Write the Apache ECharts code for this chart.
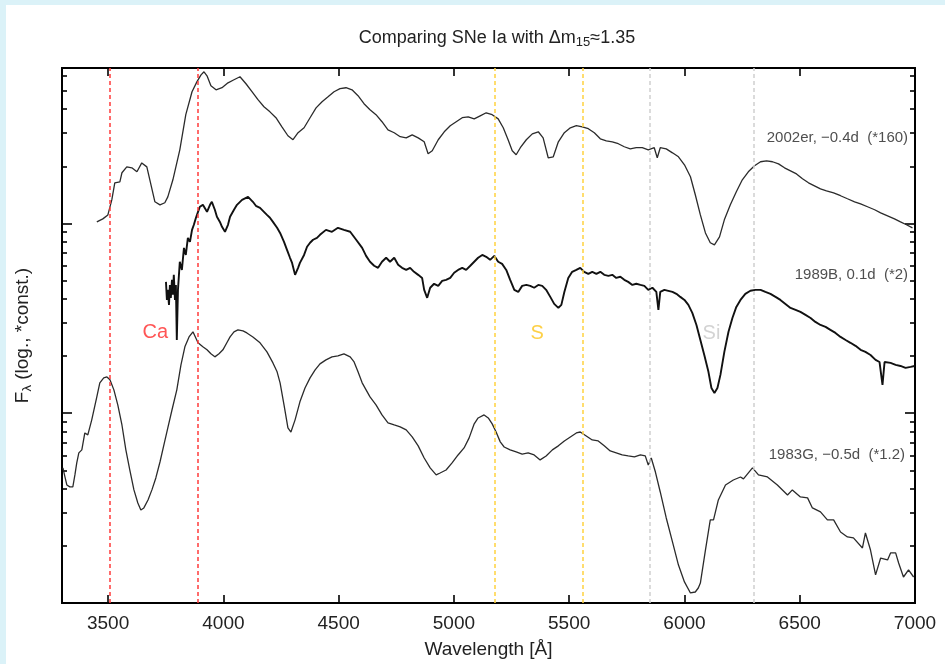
<!DOCTYPE html>
<html>
<head>
<meta charset="utf-8">
<script src="https://cdn.jsdelivr.net/npm/echarts@6/dist/echarts.min.js"></script>
<style>
html,body{margin:0;padding:0;background:#fff;}
#chart{width:945px;height:664px;}
</style>
</head>
<body>
<div id="chart"></div>
<script>
// ---- Data (wavelength in Å, log10 of scaled flux) ----
var sn2002er = [[3451,2.008],[3477,2.024],[3499,2.045],[3516,2.124],[3529,2.214],[3551,2.219],[3560,2.267],[3581,2.298],[3603,2.293],[3625,2.272],[3646,2.319],[3668,2.298],[3681,2.230],[3703,2.114],[3725,2.098],[3746,2.109],[3759,2.140],[3781,2.230],[3811,2.388],[3837,2.573],[3864,2.694],[3885,2.746],[3903,2.783],[3916,2.799],[3929,2.778],[3946,2.725],[3968,2.704],[3994,2.715],[4020,2.741],[4046,2.757],[4072,2.773],[4098,2.736],[4124,2.694],[4150,2.652],[4176,2.615],[4202,2.588],[4228,2.557],[4254,2.509],[4280,2.462],[4302,2.441],[4324,2.478],[4350,2.504],[4376,2.557],[4402,2.609],[4428,2.641],[4454,2.667],[4480,2.694],[4506,2.710],[4532,2.715],[4558,2.704],[4584,2.673],[4610,2.631],[4636,2.599],[4662,2.573],[4688,2.536],[4714,2.493],[4741,2.478],[4767,2.457],[4793,2.451],[4819,2.467],[4845,2.451],[4871,2.430],[4888,2.367],[4906,2.383],[4932,2.441],[4958,2.483],[4984,2.515],[5010,2.536],[5036,2.557],[5062,2.562],[5088,2.551],[5114,2.567],[5140,2.583],[5166,2.573],[5192,2.551],[5214,2.504],[5235,2.441],[5253,2.383],[5270,2.362],[5288,2.399],[5314,2.441],[5340,2.472],[5366,2.483],[5387,2.451],[5409,2.346],[5431,2.351],[5453,2.430],[5479,2.478],[5505,2.504],[5531,2.515],[5557,2.509],[5583,2.499],[5609,2.478],[5635,2.446],[5661,2.435],[5687,2.430],[5713,2.420],[5739,2.404],[5765,2.393],[5791,2.399],[5817,2.399],[5843,2.388],[5869,2.399],[5882,2.346],[5895,2.399],[5921,2.393],[5948,2.372],[5974,2.351],[6000,2.309],[6026,2.246],[6047,2.151],[6069,2.045],[6091,1.950],[6112,1.898],[6130,1.887],[6152,1.929],[6173,2.019],[6199,2.098],[6225,2.167],[6251,2.230],[6277,2.272],[6304,2.304],[6330,2.325],[6356,2.330],[6382,2.325],[6408,2.314],[6434,2.293],[6460,2.277],[6486,2.261],[6512,2.235],[6538,2.214],[6564,2.198],[6590,2.182],[6616,2.172],[6647,2.161],[6677,2.146],[6707,2.130],[6738,2.114],[6764,2.103],[6794,2.088],[6825,2.072],[6851,2.056],[6881,2.040],[6911,2.024],[6937,2.008],[6963,1.993],[6989,1.977]];

var sn1989B = [[3751,1.692],[3755,1.597],[3759,1.650],[3764,1.571],[3768,1.676],[3772,1.608],[3777,1.703],[3781,1.624],[3785,1.729],[3790,1.597],[3794,1.676],[3798,1.386],[3803,1.650],[3811,1.798],[3820,1.755],[3829,1.871],[3837,1.834],[3846,1.924],[3855,1.903],[3864,1.966],[3872,1.993],[3881,2.030],[3890,2.061],[3898,2.088],[3911,2.098],[3929,2.061],[3942,2.098],[3950,2.114],[3963,2.072],[3972,2.035],[3985,2.008],[3994,1.982],[4007,1.956],[4020,1.993],[4029,2.035],[4046,2.072],[4059,2.098],[4081,2.124],[4107,2.140],[4128,2.114],[4141,2.093],[4159,2.082],[4176,2.061],[4189,2.045],[4202,2.030],[4215,2.008],[4233,1.977],[4246,1.950],[4263,1.903],[4276,1.861],[4289,1.819],[4298,1.792],[4311,1.729],[4324,1.766],[4332,1.792],[4350,1.834],[4363,1.877],[4376,1.898],[4389,1.914],[4406,1.924],[4419,1.940],[4445,1.966],[4471,1.956],[4497,1.977],[4523,1.966],[4550,1.956],[4576,1.914],[4602,1.871],[4619,1.829],[4636,1.798],[4654,1.777],[4671,1.766],[4688,1.798],[4706,1.819],[4723,1.798],[4741,1.819],[4758,1.782],[4775,1.766],[4793,1.755],[4810,1.766],[4827,1.745],[4845,1.729],[4862,1.713],[4871,1.650],[4884,1.608],[4897,1.661],[4914,1.682],[4932,1.671],[4949,1.697],[4966,1.703],[4984,1.713],[5001,1.740],[5018,1.755],[5036,1.766],[5053,1.755],[5071,1.777],[5088,1.798],[5105,1.819],[5123,1.834],[5140,1.824],[5157,1.808],[5175,1.829],[5192,1.798],[5209,1.787],[5227,1.755],[5244,1.703],[5262,1.650],[5279,1.639],[5296,1.671],[5314,1.676],[5331,1.671],[5348,1.661],[5366,1.676],[5383,1.671],[5400,1.650],[5418,1.613],[5435,1.576],[5453,1.555],[5466,1.571],[5479,1.639],[5496,1.713],[5513,1.745],[5531,1.755],[5548,1.766],[5565,1.745],[5583,1.734],[5600,1.745],[5618,1.734],[5635,1.745],[5652,1.729],[5670,1.724],[5687,1.729],[5704,1.713],[5722,1.719],[5739,1.703],[5756,1.692],[5774,1.676],[5791,1.682],[5809,1.676],[5826,1.671],[5843,1.650],[5861,1.661],[5878,1.639],[5887,1.545],[5895,1.639],[5913,1.650],[5930,1.645],[5948,1.639],[5965,1.629],[5982,1.613],[6000,1.597],[6017,1.571],[6034,1.529],[6052,1.465],[6069,1.386],[6086,1.307],[6104,1.218],[6117,1.133],[6130,1.107],[6143,1.133],[6156,1.202],[6173,1.323],[6191,1.429],[6208,1.502],[6225,1.560],[6243,1.597],[6264,1.629],[6286,1.645],[6308,1.650],[6330,1.650],[6351,1.639],[6373,1.629],[6395,1.613],[6416,1.597],[6438,1.576],[6460,1.555],[6482,1.545],[6503,1.534],[6525,1.518],[6547,1.502],[6568,1.481],[6590,1.465],[6612,1.455],[6633,1.439],[6655,1.423],[6677,1.402],[6699,1.386],[6720,1.371],[6742,1.355],[6764,1.334],[6785,1.323],[6807,1.307],[6829,1.281],[6846,1.270],[6859,1.149],[6868,1.270],[6894,1.265],[6916,1.255],[6937,1.249],[6959,1.239],[6981,1.244],[6998,1.249]];

var sn1983G = [[3304,0.712],[3312,0.669],[3321,0.622],[3334,0.612],[3347,0.612],[3356,0.675],[3364,0.738],[3373,0.791],[3386,0.807],[3399,0.896],[3412,0.886],[3429,0.965],[3451,1.086],[3464,1.160],[3481,1.186],[3495,1.191],[3508,1.176],[3525,1.123],[3542,1.044],[3560,0.938],[3577,0.807],[3594,0.701],[3612,0.596],[3629,0.527],[3642,0.490],[3655,0.501],[3673,0.543],[3690,0.596],[3707,0.659],[3725,0.743],[3742,0.833],[3759,0.923],[3777,1.017],[3798,1.123],[3816,1.255],[3833,1.350],[3851,1.402],[3868,1.429],[3890,1.371],[3911,1.350],[3929,1.334],[3946,1.313],[3963,1.297],[3981,1.313],[3998,1.334],[4015,1.371],[4029,1.402],[4046,1.429],[4063,1.439],[4085,1.434],[4102,1.423],[4128,1.402],[4159,1.371],[4189,1.323],[4215,1.265],[4233,1.218],[4246,1.160],[4263,1.044],[4280,0.923],[4293,0.901],[4311,0.965],[4332,1.060],[4354,1.133],[4376,1.186],[4398,1.228],[4419,1.260],[4445,1.281],[4471,1.297],[4497,1.302],[4523,1.313],[4550,1.297],[4567,1.270],[4584,1.218],[4602,1.160],[4619,1.123],[4636,1.086],[4662,1.044],[4688,0.991],[4714,0.949],[4741,0.938],[4767,0.928],[4793,0.912],[4819,0.875],[4845,0.828],[4871,0.764],[4897,0.712],[4923,0.675],[4940,0.685],[4966,0.701],[4992,0.738],[5018,0.780],[5044,0.817],[5066,0.870],[5088,0.944],[5105,0.975],[5131,0.991],[5149,0.975],[5166,0.944],[5183,0.901],[5201,0.849],[5218,0.822],[5244,0.807],[5270,0.796],[5296,0.785],[5322,0.791],[5348,0.780],[5374,0.754],[5400,0.775],[5427,0.807],[5453,0.828],[5479,0.854],[5505,0.875],[5531,0.896],[5548,0.901],[5574,0.880],[5600,0.859],[5626,0.854],[5652,0.828],[5678,0.801],[5704,0.791],[5730,0.780],[5756,0.775],[5783,0.770],[5809,0.780],[5830,0.775],[5843,0.727],[5856,0.764],[5874,0.690],[5895,0.585],[5921,0.448],[5948,0.322],[5974,0.200],[6000,0.111],[6026,0.053],[6047,0.058],[6060,0.079],[6069,0.105],[6091,0.279],[6112,0.438],[6126,0.438],[6147,0.543],[6178,0.622],[6212,0.648],[6243,0.664],[6256,0.654],[6295,0.712],[6321,0.675],[6360,0.664],[6403,0.622],[6447,0.569],[6468,0.596],[6503,0.559],[6534,0.554],[6555,0.501],[6590,0.480],[6620,0.438],[6647,0.438],[6677,0.374],[6707,0.348],[6733,0.343],[6772,0.290],[6785,0.369],[6807,0.279],[6829,0.148],[6851,0.237],[6881,0.227],[6894,0.264],[6916,0.264],[6929,0.211],[6950,0.137],[6972,0.174],[6994,0.137]];

// Spectrum labels
var specLabels = ['2002er, \u22120.4d  (*160)', '1989B, 0.1d  (*2)', '1983G, \u22120.5d  (*1.2)'];
var specLabelWave = [6994, 6994, 6981];
var specLabelLogF = [2.451, 1.729, 0.780];

// Ion line markers
var ionNames = ['Ca', 'S', 'Si'];
var ionColors = ['#ff2a2a', '#fcc419', '#c8c8c8'];
var ionLabelWave = [3705, 5361, 6117];
var ionLabelLogF = [1.423, 1.418, 1.418];
var caLines = [3508, 3888];
var sLines = [5179, 5560];
var siLines = [5849, 6300];

// Axis ticks
var xTicks = [3500, 4000, 4500, 5000, 5500, 6000, 6500, 7000];
var xMin = 3300, xMax = 7000;
var yMin = 0, yMax = 2.819;
var decades = [0, 1, 2];
var minorMult = [2, 3, 4, 5, 6, 7, 8, 9];

var majorY = decades.slice();
var minorY = [];
decades.forEach(function (d) {
  minorMult.forEach(function (m) {
    var v = d + Math.log10(m);
    if (v < yMax) minorY.push(v);
  });
});

var FONT = "'Liberation Sans', Arial, sans-serif";
var chart = echarts.init(document.getElementById('chart'), null, {renderer: 'canvas'});

function yAx(pos, vals, len, withName) {
  var a = {
    type: 'value', min: yMin, max: yMax, position: pos,
    axisLine: {show: true, onZero: false, lineStyle: {color: '#000', width: 2}},
    axisTick: {show: true, inside: true, length: len, customValues: vals, lineStyle: {color: '#000', width: 1.6}},
    axisLabel: {show: false},
    splitLine: {show: false}
  };
  if (withName) {
    a.name = '{f|F}{s|\u03bb}{f| (log., *const.)}';
    a.nameLocation = 'middle';
    a.nameRotate = 90;
    a.nameGap = 28;
    a.nameTextStyle = {
      rich: {
        f: {fontFamily: FONT, fontSize: 19, color: '#222', lineHeight: 22, verticalAlign: 'middle'},
        s: {fontFamily: FONT, fontSize: 13, color: '#222', lineHeight: 13, verticalAlign: 'bottom'}
      }
    };
  }
  return a;
}

function vLines(vals, color) {
  return vals.map(function (v) {
    return {xAxis: v, lineStyle: {color: color, type: [4, 3], width: 1.5}};
  });
}

var annotData = [];
specLabels.forEach(function (t, i) {
  annotData.push({
    value: [specLabelWave[i], specLabelLogF[i]], name: t,
    label: {show: true, position: 'left', distance: 5, formatter: '{b}', fontFamily: FONT, fontSize: 15, color: '#222'}
  });
});
ionNames.forEach(function (t, i) {
  annotData.push({
    value: [ionLabelWave[i], ionLabelLogF[i]], name: t,
    label: {show: true, position: 'inside', formatter: '{b}', fontFamily: FONT, fontSize: 20, color: ionColors[i]}
  });
});

var option = {
  backgroundColor: '#ffffff',
  animation: false,
  title: {
    text: '{a|Comparing SNe Ia with \u0394m}{s|15}{a|\u22481.35}',
    left: 492, top: 22, textAlign: 'center',
    textStyle: {
      fontWeight: 'normal',
      rich: {
        a: {fontFamily: FONT, fontSize: 18, fontWeight: 'normal', color: '#222', lineHeight: 22, verticalAlign: 'middle'},
        s: {fontFamily: FONT, fontSize: 13, fontWeight: 'normal', color: '#222', lineHeight: 13, verticalAlign: 'bottom'}
      }
    }
  },
  graphic: [
    {type: 'rect', shape: {x: 0, y: 0, width: 6, height: 664}, style: {fill: '#dbf2f8'}, z: 100},
    {type: 'rect', shape: {x: 0, y: 0, width: 945, height: 5}, style: {fill: '#dbf2f8'}, z: 100}
  ],
  grid: {left: 62, right: 30, top: 68, bottom: 61, containLabel: false},
  xAxis: [
    {
      type: 'value', min: xMin, max: xMax, position: 'bottom',
      axisLine: {show: true, onZero: false, lineStyle: {color: '#000', width: 2}},
      axisTick: {show: true, inside: true, length: 8, customValues: xTicks, lineStyle: {color: '#000', width: 1.6}},
      axisLabel: {show: true, customValues: xTicks, margin: 11, fontFamily: FONT, fontSize: 19, color: '#222',
        formatter: function (v) { return String(v); }},
      splitLine: {show: false},
      name: 'Wavelength [\u00c5]', nameLocation: 'middle', nameGap: 37,
      nameTextStyle: {fontFamily: FONT, fontSize: 19, color: '#222'}
    },
    {
      type: 'value', min: xMin, max: xMax, position: 'top',
      axisLine: {show: true, onZero: false, lineStyle: {color: '#000', width: 2}},
      axisTick: {show: true, inside: true, length: 8, customValues: xTicks, lineStyle: {color: '#000', width: 1.6}},
      axisLabel: {show: false},
      splitLine: {show: false}
    }
  ],
  yAxis: [
    yAx('left', majorY, 10, true),
    yAx('left', minorY, 5, false),
    yAx('right', majorY, 10, false),
    yAx('right', minorY, 5, false)
  ],
  series: [
    {
      type: 'line', name: 'lines', data: [], silent: true, z: 1,
      markLine: {
        silent: true, symbol: ['none', 'none'], label: {show: false},
        data: vLines(caLines, '#ff3b3b').concat(vLines(sLines, '#ffd23f')).concat(vLines(siLines, '#cfcfcf'))
      }
    },
    {
      type: 'line', name: '2002er', data: sn2002er, showSymbol: false, symbol: 'none', z: 3,
      lineStyle: {color: '#2b2b2b', width: 1.3}
    },
    {
      type: 'line', name: '1989B', data: sn1989B, showSymbol: false, symbol: 'none', z: 3,
      lineStyle: {color: '#111', width: 1.9}
    },
    {
      type: 'line', name: '1983G', data: sn1983G, showSymbol: false, symbol: 'none', z: 3,
      lineStyle: {color: '#2b2b2b', width: 1.3}
    },
    {
      type: 'scatter', name: 'labels', data: annotData, symbolSize: 1, z: 4,
      itemStyle: {color: 'rgba(0,0,0,0)'}, silent: true
    }
  ]
};
chart.setOption(option);
</script>
</body>
</html>
